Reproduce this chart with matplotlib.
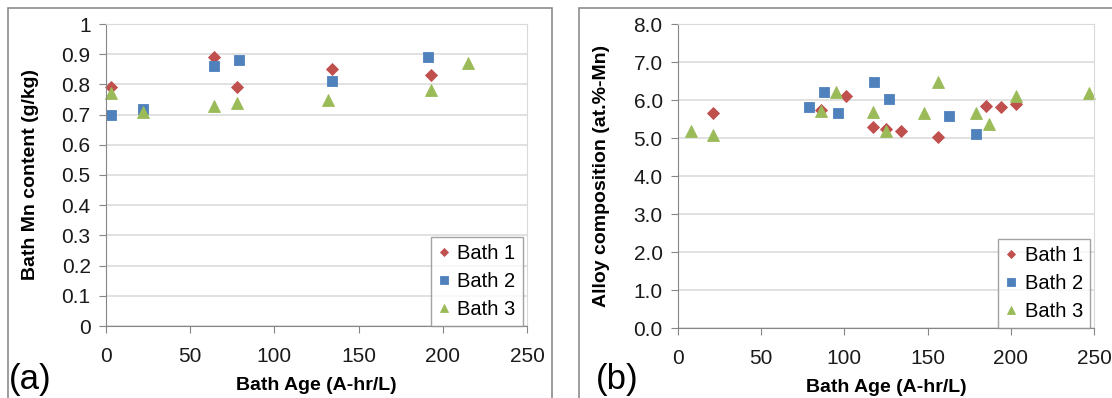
import matplotlib
matplotlib.use("Agg")
import matplotlib.pyplot as plt
from matplotlib.patches import Rectangle
from matplotlib.ticker import FuncFormatter

plt.rcParams['font.family'] = ['Liberation Sans', 'DejaVu Sans']

# (a) bath Mn content vs bath age
age_a_bath1 = [3, 64, 78, 134, 193]
mn_bath1 = [0.79, 0.89, 0.79, 0.85, 0.83]
age_a_bath2 = [3, 22, 64, 79, 134, 191]
mn_bath2 = [0.70, 0.72, 0.86, 0.88, 0.81, 0.89]
age_a_bath3 = [3, 22, 64, 78, 132, 193, 215]
mn_bath3 = [0.77, 0.71, 0.73, 0.74, 0.75, 0.78, 0.87]

# (b) alloy composition vs bath age
age_b_bath1 = [21, 86, 101, 117, 125, 134, 156, 185, 194, 203]
comp_bath1 = [5.65, 5.75, 6.11, 5.30, 5.23, 5.18, 5.03, 5.83, 5.81, 5.89]
age_b_bath2 = [79, 88, 96, 118, 127, 163, 179]
comp_bath2 = [5.82, 6.22, 5.67, 6.47, 6.02, 5.57, 5.10]
age_b_bath3 = [8, 21, 86, 95, 117, 125, 148, 156, 179, 187, 203, 247]
comp_bath3 = [5.19, 5.09, 5.72, 6.21, 5.68, 5.18, 5.66, 6.47, 5.67, 5.37, 6.10, 6.19]

labels = ['Bath 1', 'Bath 2', 'Bath 3']
colors = ['#C0504D', '#4F81BD', '#9BBB59']
markers = ['D', 's', '^']
msizes = [6.5, 7.5, 8.5]

W, H = 1112, 398
fig = plt.figure(figsize=(W / 100, H / 100), dpi=100)

# chart frames
fig.patches.append(Rectangle((8 / W, -0.05), (552 - 8) / W, 1 - 8 / H + 0.05,
                             transform=fig.transFigure, fill=False,
                             edgecolor='#8c8c8c', lw=1.2))
fig.patches.append(Rectangle((579 / W, -0.05), 0.5, 1 - 8 / H + 0.05,
                             transform=fig.transFigure, fill=False,
                             edgecolor='#8c8c8c', lw=1.2))

ax1 = fig.add_axes([106 / W, 1 - 326 / H, (527 - 106) / W, (326 - 24) / H])
ax2 = fig.add_axes([678 / W, 1 - 328 / H, (1094 - 678) / W, (328 - 24) / H])

series_a = [(age_a_bath1, mn_bath1), (age_a_bath2, mn_bath2), (age_a_bath3, mn_bath3)]
series_b = [(age_b_bath1, comp_bath1), (age_b_bath2, comp_bath2), (age_b_bath3, comp_bath3)]

for ax, series in [(ax1, series_a), (ax2, series_b)]:
    for (x, y), lab, c, m, ms in zip(series, labels, colors, markers, msizes):
        ax.plot(x, y, linestyle='none', marker=m, color=c, markersize=ms,
                markeredgewidth=0.6, markeredgecolor=c, label=lab, clip_on=False)
    ax.set_xlim(0, 250)
    ax.set_xticks(range(0, 251, 50))
    ax.grid(axis='y', color='#d9d9d9', lw=1.1)
    ax.set_axisbelow(True)
    for s in ['left', 'bottom']:
        ax.spines[s].set_color('#868686')
    for s in ['top', 'right']:
        ax.spines[s].set_color('#d9d9d9')
    ax.tick_params(direction='out', length=5, color='#868686', labelsize=15,
                   labelcolor='#1a1a1a', pad=6)
    ax.tick_params(axis='x', pad=10)
    ax.set_xlabel('Bath Age (A-hr/L)', fontsize=14, fontweight='bold', labelpad=8)
    leg = ax.legend(loc='lower right', bbox_to_anchor=(0.99, 0.0), fontsize=14.5,
                    frameon=True, fancybox=False, markerscale=0.7,
                    handlelength=0.6, handletextpad=0.35, borderpad=0.35,
                    labelspacing=0.45, borderaxespad=0.0)
    leg.get_frame().set_edgecolor('#8c8c8c')
    leg.get_frame().set_linewidth(1.0)

ax1.set_ylim(0, 1)
ax1.set_yticks([i / 10 for i in range(11)])
ax1.yaxis.set_major_formatter(FuncFormatter(lambda v, p: '%g' % round(v, 1)))
ax1.set_ylabel('Bath Mn content (g/kg)', fontsize=14, fontweight='bold')
ax1.yaxis.set_label_coords(-0.16, 0.5)

ax2.set_ylim(0, 8)
ax2.set_yticks(range(9))
ax2.yaxis.set_major_formatter(FuncFormatter(lambda v, p: '%.1f' % v))
ax2.set_ylabel('Alloy composition (at.%-Mn)', fontsize=14, fontweight='bold')
ax2.yaxis.set_label_coords(-0.163, 0.5)

fig.text(30 / W, 1 - 379 / H, '(a)', fontsize=25, ha='center', va='center')
fig.text(617 / W, 1 - 379 / H, '(b)', fontsize=25, ha='center', va='center')

fig.savefig('out.png', dpi=100)
